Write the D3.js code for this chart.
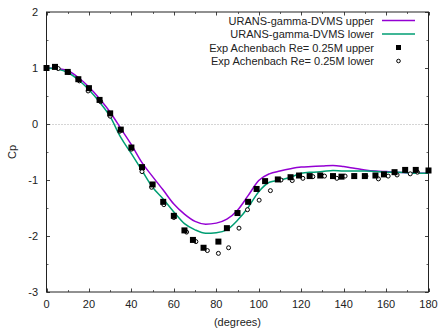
<!DOCTYPE html>
<html>
<head>
<meta charset="utf-8">
<script src="https://cdn.jsdelivr.net/npm/d3@7"></script>
<style>
  body { margin: 0; background: #fff; }
  svg text { font-family: "Liberation Sans", Arial, sans-serif; fill: #222; }
</style>
</head>
<body>
<div id="chart"></div>
<script>
'use strict';

// simulation curves (degrees, Cp)
var curveDeg = [0, 5, 10, 15, 20, 25, 30, 35, 40, 45, 50, 55, 60, 65, 70, 75, 80, 85, 90,
  95, 100, 105, 110, 115, 120, 125, 130, 135, 140, 145, 150, 155, 160, 165, 170, 175, 180];
var uransUpper = [1.0, 0.99, 0.95, 0.83, 0.66, 0.45, 0.21, -0.08, -0.37, -0.69, -0.94, -1.18,
  -1.43, -1.61, -1.74, -1.79, -1.77, -1.70, -1.54, -1.28, -1.01, -0.89, -0.84, -0.80, -0.77,
  -0.76, -0.75, -0.74, -0.76, -0.79, -0.82, -0.84, -0.85, -0.86, -0.87, -0.88, -0.88];
var uransLower = [1.0, 0.98, 0.92, 0.79, 0.61, 0.39, 0.13, -0.24, -0.53, -0.83, -1.13, -1.34,
  -1.57, -1.78, -1.89, -1.95, -1.94, -1.89, -1.72, -1.49, -1.21, -1.04, -1.0, -0.95, -0.88,
  -0.86, -0.85, -0.83, -0.84, -0.84, -0.84, -0.85, -0.86, -0.86, -0.87, -0.88, -0.88];

// Achenbach experiment
var expUpperDeg = [0, 4, 10, 15, 20, 25, 30, 35, 40, 45, 50, 55, 60, 65, 69, 74, 81, 85, 90, 95,
  99, 103, 109, 115, 119, 124, 129, 135, 139, 145, 150, 155, 159, 164, 169, 174, 180];
var expUpperCp = [1.0, 1.02, 0.93, 0.80, 0.64, 0.43, 0.19, -0.10, -0.42, -0.77, -1.08, -1.39,
  -1.64, -1.90, -2.07, -2.21, -2.10, -1.86, -1.59, -1.39, -1.16, -1.02, -0.99, -0.95, -0.92,
  -0.93, -0.92, -0.93, -0.94, -0.93, -0.93, -0.92, -0.90, -0.86, -0.82, -0.82, -0.83];
var expLowerDeg = [5.5, 10.5, 15.5, 19.6, 25.5, 30, 34.5, 40, 45, 49.5, 55.3, 60, 66, 70.4, 75.8,
  81, 85.8, 90.7, 94.7, 100.2, 105.5, 110.5, 115.8, 120.8, 125.5, 131, 136.8, 140.7, 145.2,
  150.5, 156.4, 161, 165.2, 171.4, 174.8];
var expLowerCp = [0.99, 0.92, 0.77, 0.59, 0.40, 0.14, -0.13, -0.45, -0.85, -1.13, -1.44, -1.67,
  -1.93, -2.10, -2.26, -2.31, -2.21, -1.86, -1.53, -1.36, -1.19, -1.00, -1.01, -0.97, -0.94,
  -0.93, -0.97, -0.93, -0.93, -0.93, -0.98, -0.93, -0.91, -0.89, -0.86];

var legendLabels = ['URANS-gamma-DVMS upper', 'URANS-gamma-DVMS lower',
  'Exp Achenbach Re= 0.25M upper', 'Exp Achenbach Re= 0.25M lower'];

var W = 438, H = 330;
var margin = {left: 46.5, right: 9.5, top: 12, bottom: 38};
var purple = '#9400d3', green = '#009e73';

var svg = d3.select('#chart').append('svg').attr('width', W).attr('height', H);

var x = d3.scaleLinear().domain([0, 180]).range([margin.left, W - margin.right]);
var y = d3.scaleLinear().domain([-3, 2]).range([H - margin.bottom, margin.top]);

// zero line
svg.append('line')
  .attr('x1', x(0)).attr('x2', x(180)).attr('y1', Math.round(y(0)) + 0.5).attr('y2', Math.round(y(0)) + 0.5)
  .attr('stroke', '#aaa').attr('stroke-width', 1).attr('stroke-dasharray', '1,2');

// ticks on all four sides, pointing inward
function ticks(vals, len, color) {
  var g = svg.append('g').attr('stroke', color).attr('stroke-width', 1);
  vals.x.forEach(function(v) {
    var px = Math.round(x(v)) + 0.5;
    g.append('line').attr('x1', px).attr('x2', px).attr('y1', y(-3)).attr('y2', y(-3) - len);
    g.append('line').attr('x1', px).attr('x2', px).attr('y1', y(2)).attr('y2', y(2) + len);
  });
  vals.y.forEach(function(v) {
    var py = Math.round(y(v)) + 0.5;
    g.append('line').attr('x1', x(0)).attr('x2', x(0) + len).attr('y1', py).attr('y2', py);
    g.append('line').attr('x1', x(180)).attr('x2', x(180) - len).attr('y1', py).attr('y2', py);
  });
}
ticks({x: d3.range(0, 181, 20), y: d3.range(-3, 2.1, 1)}, 3.5, '#444');
ticks({x: d3.range(10, 180, 20), y: d3.range(-2.5, 2, 1)}, 2, '#666');

// frame
svg.append('rect')
  .attr('x', x(0)).attr('y', y(2)).attr('width', x(180) - x(0)).attr('height', y(-3) - y(2))
  .attr('fill', 'none').attr('stroke', '#222').attr('stroke-width', 1);

// tick labels
svg.append('g').selectAll('text').data(d3.range(0, 181, 20)).join('text')
  .attr('x', function(d) { return x(d); }).attr('y', y(-3) + 16)
  .attr('text-anchor', 'middle').attr('font-size', 11).text(function(d) { return d; });
svg.append('g').selectAll('text').data(d3.range(-3, 2.1, 1)).join('text')
  .attr('x', x(0) - 8.5).attr('y', function(d) { return y(d) + 4; })
  .attr('text-anchor', 'end').attr('font-size', 11).text(function(d) { return d; });

svg.append('text').attr('x', (x(0) + x(180)) / 2).attr('y', H - 4)
  .attr('text-anchor', 'middle').attr('font-size', 11).text('(degrees)');
svg.append('text').attr('transform', 'translate(16,' + y(-0.5) + ') rotate(-90)')
  .attr('text-anchor', 'middle').attr('font-size', 11).text('Cp');

// curves
var line = d3.line()
  .x(function(d) { return x(d[0]); })
  .y(function(d) { return y(d[1]); })
  .curve(d3.curveMonotoneX);

svg.append('path').datum(d3.zip(curveDeg, uransUpper)).attr('d', line)
  .attr('fill', 'none').attr('stroke', purple).attr('stroke-width', 1.5);
svg.append('path').datum(d3.zip(curveDeg, uransLower)).attr('d', line)
  .attr('fill', 'none').attr('stroke', green).attr('stroke-width', 1.5);

// experiment markers
svg.append('g').selectAll('circle').data(d3.zip(expLowerDeg, expLowerCp)).join('circle')
  .attr('cx', function(d) { return x(d[0]); }).attr('cy', function(d) { return y(d[1]); })
  .attr('r', 2).attr('fill', '#fff').attr('stroke', '#000').attr('stroke-width', 1);
svg.append('g').selectAll('rect').data(d3.zip(expUpperDeg, expUpperCp)).join('rect')
  .attr('x', function(d) { return x(d[0]) - 3; }).attr('y', function(d) { return y(d[1]) - 3; })
  .attr('width', 6).attr('height', 6).attr('fill', '#000');

// legend
var leg = svg.append('g');
legendLabels.forEach(function(label, i) {
  var cy = 20.5 + i * 13.5;
  leg.append('text').attr('x', 374).attr('y', cy + 4).attr('text-anchor', 'end')
    .attr('font-size', 11).text(label);
  if (i < 2) {
    leg.append('line').attr('x1', 382).attr('x2', 415).attr('y1', cy).attr('y2', cy)
      .attr('stroke', i === 0 ? purple : green).attr('stroke-width', 1.5);
  } else if (i === 2) {
    leg.append('rect').attr('x', 396).attr('y', cy - 2.5).attr('width', 5).attr('height', 5).attr('fill', '#000');
  } else {
    leg.append('circle').attr('cx', 398.5).attr('cy', cy).attr('r', 1.8)
      .attr('fill', '#fff').attr('stroke', '#000').attr('stroke-width', 1);
  }
});
</script>
</body>
</html>
